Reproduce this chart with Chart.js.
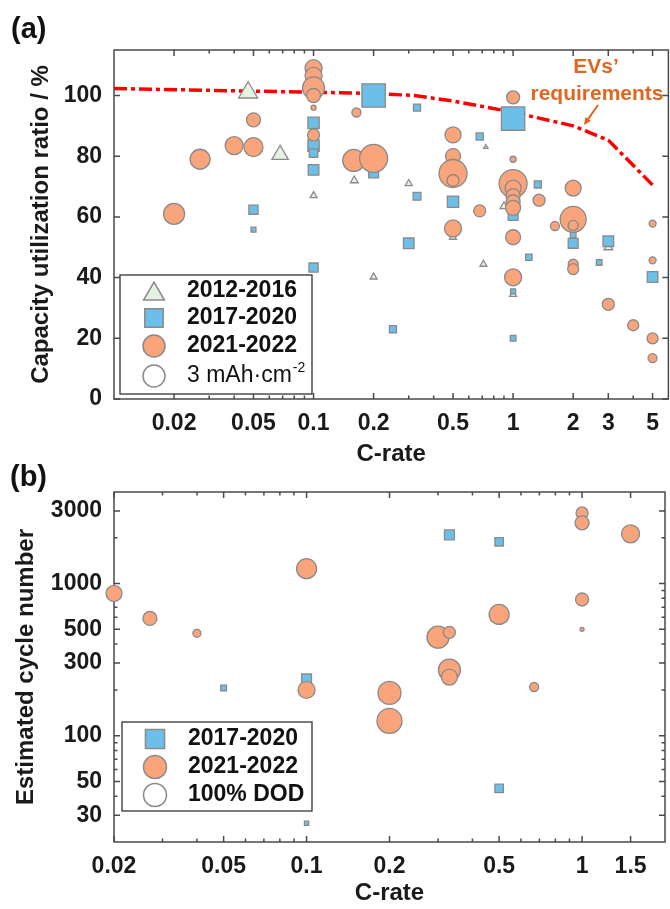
<!DOCTYPE html>
<html>
<head>
<meta charset="utf-8">
<title>Capacity utilization and cycle number vs C-rate</title>
<script src="https://cdn.jsdelivr.net/npm/chart.js@4.4.1/dist/chart.umd.min.js"></script>
<style>
  body { margin: 0; background: #fff; }
  .panel { position: absolute; left: 0; width: 670px; }
  #boxA { top: 0; height: 470px; }
  #boxB { top: 460px; height: 449px; }
</style>
</head>
<body>
<div class="panel" id="boxA"><canvas id="chartA"></canvas></div>
<div class="panel" id="boxB"><canvas id="chartB"></canvas></div>
<script>
// ---- panel (a): capacity utilization ratio vs C-rate ----
const triRate = [0.047, 0.068, 0.1, 0.1, 0.16, 0.2, 0.3, 0.5, 0.71, 0.73, 0.9, 1, 3];
const triUtil = [101, 80.5, 84, 67, 72, 40.2, 71, 53.3, 44.4, 83, 63.5, 34.5, 50];
const triSize = [11, 9.5, 6, 4, 4.5, 4, 4, 4, 4, 2.5, 4.5, 4, 5];

const sqRate = [0.05, 0.05, 0.1, 0.1, 0.1, 0.1, 0.1, 0.2, 0.2, 0.25, 0.3, 0.33, 0.33, 0.5, 0.68, 1, 1, 1, 1, 1.2, 1.33, 2, 2, 2.7, 3, 5];
const sqUtil = [62.4, 55.8, 91, 83.5, 81, 75.5, 43.3, 100, 74.5, 23, 51.3, 96, 66.8, 65, 86.5, 92.4, 60.5, 35.5, 20, 46.7, 70.7, 54, 51.3, 45, 52, 40.2];
const sqSize = [6.5, 3.5, 8, 8, 6, 7.5, 6.5, 16.5, 7, 5, 7.5, 5, 5.5, 8, 5, 16.5, 7, 3.5, 4, 4.5, 5, 4, 7, 4, 7.5, 7.5];

const circRate = [0.02, 0.027, 0.04, 0.05, 0.05, 0.1, 0.1, 0.1, 0.1, 0.1, 0.1, 0.164, 0.159, 0.2, 0.5, 0.5, 0.5, 0.5, 0.5, 0.68,
  1, 1, 1, 1, 1, 1, 1, 1, 1, 1.35, 1.62, 2, 2, 2, 2, 2, 3, 4, 5, 5, 5, 5];
const circUtil = [61, 79, 83.5, 83, 92, 109, 106.5, 102.5, 100, 96, 87, 94.4, 78.6, 79.3, 87, 80, 74.3, 72, 56.2, 62,
  99.4, 79, 71, 69.5, 67, 65, 63, 53.3, 40.1, 65.5, 57, 69.5, 59.2, 57.2, 44.4, 42.8, 31.2, 24.3, 57.8, 45.7, 20, 13.5];
const circSize = [10.5, 10, 9, 9.5, 7, 8.5, 8.5, 11, 7, 2.5, 6, 4.5, 11, 14, 8, 7.5, 14, 6, 8.5, 6,
  6.5, 3, 14, 8, 7, 7, 7.5, 7.5, 8.5, 6, 4.5, 8, 13, 5, 5, 5.5, 6, 5.5, 3.5, 3.5, 5.5, 4.5];

// EVs' requirements line
const evRate = [0.01, 0.2, 0.32, 0.5, 1, 2, 3, 5];
const evUtil = [102.3, 100.7, 100, 98.2, 94.5, 90, 85.3, 70.5];

const aXTicks = [0.02, 0.05, 0.1, 0.2, 0.5, 1, 2, 3, 5];
const aXMinor = [0.03, 0.04, 0.06, 0.07, 0.08, 0.09, 0.3, 0.4, 0.6, 0.7, 0.8, 0.9, 4];
const aYTicks = [0, 20, 40, 60, 80, 100];

// ---- panel (b): estimated cycle number vs C-rate ----
const bSqRate = [0.05, 0.1, 0.1, 0.33, 0.5, 0.5];
const bSqCycle = [206, 236, 26.6, 2090, 1883, 45];
const bSqSize = [4, 7, 3, 7, 6, 6];

const bCircRate = [0.02, 0.027, 0.04, 0.1, 0.1, 0.2, 0.2, 0.3, 0.33, 0.33, 0.33, 0.5, 0.67, 1, 1, 1, 1, 1.5];
const bCircCycle = [861, 590, 471, 1253, 200, 191, 125, 444, 478, 270, 243, 627, 209, 2912, 2507, 786, 500, 2124];
const bCircSize = [8, 7, 4, 10, 8.5, 11.5, 12.5, 11, 6, 11, 8, 10, 4.5, 6, 7, 6.5, 2, 9];

const bXTicks = [0.02, 0.05, 0.1, 0.2, 0.5, 1, 1.5];
const bXMinor = [0.03, 0.04, 0.06, 0.07, 0.08, 0.09, 0.3, 0.4, 0.6, 0.7, 0.8, 0.9];
const bYTicks = [30, 50, 100, 300, 500, 1000, 3000];
const bYMinor = [40, 60, 70, 80, 90, 200, 400, 600, 700, 800, 900, 2000];

const FONT = "'Liberation Sans', Arial, Helvetica, sans-serif";
const ORANGE = '#f9a47a', BLUE = '#6cbfe9', GREEN = '#e6f2e1', EDGE = '#8a8a8a', EVC = '#e2661f';
Chart.defaults.font.family = FONT;
Chart.defaults.color = '#1a1a1a';

const bubbles = (xs, ys, rs) => xs.map((x, i) => ({ x, y: ys[i], r: rs[i] }));

function markerSet(label, style, fill, data, order) {
  return { type: 'bubble', label, data, order, pointStyle: style, backgroundColor: fill,
    borderColor: EDGE, borderWidth: 1.3, clip: false };
}

// box frame and inward ticks on all four sides
const frameTicks = {
  id: 'frameTicks',
  beforeDatasetsDraw(chart, args, o) {
    const { ctx, chartArea: a, scales: { x, y } } = chart;
    ctx.save();
    ctx.strokeStyle = '#4a4a4a';
    ctx.lineWidth = 1.5;
    ctx.strokeRect(a.left, a.top, a.right - a.left, a.bottom - a.top);
    ctx.beginPath();
    const tick = (vals, len, isX) => vals.forEach(v => {
      if (isX) {
        const px = x.getPixelForValue(v);
        ctx.moveTo(px, a.bottom); ctx.lineTo(px, a.bottom - len);
        ctx.moveTo(px, a.top); ctx.lineTo(px, a.top + len);
      } else {
        const py = y.getPixelForValue(v);
        ctx.moveTo(a.left, py); ctx.lineTo(a.left + len, py);
        ctx.moveTo(a.right, py); ctx.lineTo(a.right - len, py);
      }
    });
    tick(o.xMajor, 6, true); tick(o.xMinor, 3.5, true);
    tick(o.yMajor, 6, false); tick(o.yMinor, 3.5, false);
    ctx.stroke();
    ctx.restore();
  }
};

const boxLegend = {
  id: 'boxLegend',
  afterDraw(chart, args, o) {
    const ctx = chart.ctx;
    const [x1, y1, x2, y2] = o.box;
    ctx.save();
    ctx.fillStyle = '#fff';
    ctx.fillRect(x1, y1, x2 - x1, y2 - y1);
    ctx.strokeStyle = '#333';
    ctx.lineWidth = 1.3;
    ctx.strokeRect(x1, y1, x2 - x1, y2 - y1);
    o.items.forEach(it => {
      ctx.fillStyle = it.fill;
      ctx.strokeStyle = EDGE;
      ctx.lineWidth = 1.5;
      Chart.helpers.drawPoint(ctx, { pointStyle: it.style, radius: it.r, borderWidth: 1.5, rotation: 0 },
        o.markerX, it.y + (it.style === 'triangle' ? it.r / 4 : 0));
      ctx.fillStyle = '#111';
      ctx.textAlign = 'left';
      ctx.textBaseline = 'middle';
      ctx.font = (it.bold ? 'bold ' : '') + '23px ' + FONT;
      ctx.fillText(it.text, o.textX, it.y);
      if (it.sup) {
        const w = ctx.measureText(it.text).width;
        ctx.font = '14px ' + FONT;
        ctx.fillText(it.sup, o.textX + w + 1, it.y - 8);
      }
    });
    ctx.restore();
  }
};

const notes = {
  id: 'notes',
  afterDraw(chart, args, o) {
    const ctx = chart.ctx;
    ctx.save();
    o.texts.forEach(t => {
      ctx.fillStyle = t.color || '#111';
      ctx.font = 'bold ' + t.size + 'px ' + FONT;
      ctx.textAlign = t.align || 'left';
      ctx.textBaseline = 'middle';
      ctx.fillText(t.text, t.x, t.y);
    });
    if (o.arrow) {
      const [ax, ay, bx, by] = o.arrow;
      const ang = Math.atan2(by - ay, bx - ax);
      ctx.strokeStyle = EVC;
      ctx.fillStyle = EVC;
      ctx.lineWidth = 2;
      ctx.beginPath();
      ctx.moveTo(ax, ay); ctx.lineTo(bx - 5 * Math.cos(ang), by - 5 * Math.sin(ang));
      ctx.stroke();
      ctx.beginPath();
      ctx.moveTo(bx, by);
      ctx.lineTo(bx - 8 * Math.cos(ang - 0.45), by - 8 * Math.sin(ang - 0.45));
      ctx.lineTo(bx - 8 * Math.cos(ang + 0.45), by - 8 * Math.sin(ang + 0.45));
      ctx.closePath();
      ctx.fill();
    }
    ctx.restore();
  }
};

function axisX(min, max, tickVals, height) {
  return {
    type: 'logarithmic', min, max,
    grid: { display: false, drawTicks: false }, border: { display: false },
    ticks: { font: { size: 23, weight: 'bold' }, padding: 11, autoSkip: false, maxRotation: 0, callback: v => String(v) },
    afterBuildTicks: s => { s.ticks = tickVals.map(v => ({ value: v })); },
    afterFit: s => { s.height = height; },
    title: { display: true, text: 'C-rate', font: { size: 24, weight: 'bold' }, padding: { top: 0, bottom: 1 } }
  };
}

function axisY(type, min, max, tickVals, text, titlePad) {
  return {
    type, min, max,
    grid: { display: false, drawTicks: false }, border: { display: false },
    ticks: { font: { size: 23, weight: 'bold' }, padding: 12, autoSkip: false, callback: v => String(v) },
    afterBuildTicks: s => { s.ticks = tickVals.map(v => ({ value: v })); },
    afterFit: s => { s.width = 114; },
    title: { display: true, text, font: { size: 24, weight: 'bold' }, padding: { top: titlePad, bottom: 0 } }
  };
}

new Chart(document.getElementById('chartA'), {
  type: 'bubble',
  data: {
    datasets: [
      markerSet('2021-2022', 'circle', ORANGE, bubbles(circRate, circUtil, circSize), 0),
      markerSet('2017-2020', 'rect', BLUE, bubbles(sqRate, sqUtil, sqSize), 1),
      markerSet('2012-2016', 'triangle', GREEN, bubbles(triRate, triUtil, triSize), 2),
      { type: 'line', label: "EVs' requirements", order: 3, data: evRate.map((x, i) => ({ x, y: evUtil[i] })),
        borderColor: '#ff0000', borderWidth: 3.5, borderDash: [13, 4, 4, 4], pointRadius: 0, tension: 0, fill: false }
    ]
  },
  options: {
    responsive: true, maintainAspectRatio: false, animation: false, events: [],
    layout: { autoPadding: false, padding: { top: 50, right: 1, left: 0, bottom: 0 } },
    plugins: {
      legend: { display: false }, tooltip: { enabled: false },
      frameTicks: { xMajor: aXTicks, xMinor: aXMinor, yMajor: aYTicks, yMinor: [] },
      boxLegend: {
        box: [120, 275, 312, 394], markerX: 154, textX: 187,
        items: [
          { style: 'triangle', fill: GREEN, r: 12, y: 291, text: '2012-2016', bold: true },
          { style: 'rect', fill: BLUE, r: 13, y: 318, text: '2017-2020', bold: true },
          { style: 'circle', fill: ORANGE, r: 11, y: 346, text: '2021-2022', bold: true },
          { style: 'circle', fill: '#fff', r: 11, y: 376, text: '3 mAh·cm', sup: '-2', bold: false }
        ]
      },
      notes: {
        texts: [
          { text: '(a)', x: 11, y: 30, size: 29 },
          { text: 'EVs’', x: 596, y: 67, size: 21, color: EVC, align: 'center' },
          { text: 'requirements', x: 597, y: 94, size: 21, color: EVC, align: 'center' }
        ],
        arrow: [598, 105, 584, 125]
      }
    },
    scales: {
      x: axisX(0.01, 6, aXTicks, 71),
      y: axisY('linear', 0, 115, aYTicks, 'Capacity utilization ratio / %', 27)
    }
  },
  plugins: [frameTicks, boxLegend, notes]
});

new Chart(document.getElementById('chartB'), {
  type: 'bubble',
  data: {
    datasets: [
      markerSet('2021-2022', 'circle', ORANGE, bubbles(bCircRate, bCircCycle, bCircSize), 0),
      markerSet('2017-2020', 'rect', BLUE, bubbles(bSqRate, bSqCycle, bSqSize), 1)
    ]
  },
  options: {
    responsive: true, maintainAspectRatio: false, animation: false, events: [],
    layout: { autoPadding: false, padding: { top: 32, right: 5, left: 0, bottom: 0 } },
    plugins: {
      legend: { display: false }, tooltip: { enabled: false },
      frameTicks: { xMajor: bXTicks, xMinor: bXMinor, yMajor: bYTicks, yMinor: bYMinor },
      boxLegend: {
        box: [122, 262, 312, 351], markerX: 155, textX: 188,
        items: [
          { style: 'rect', fill: BLUE, r: 13.5, y: 279, text: '2017-2020', bold: true },
          { style: 'circle', fill: ORANGE, r: 11.5, y: 307, text: '2021-2022', bold: true },
          { style: 'circle', fill: '#fff', r: 11.5, y: 335, text: '100% DOD', bold: true }
        ]
      },
      notes: { texts: [{ text: '(b)', x: 10, y: 18, size: 29 }] }
    },
    scales: {
      x: axisX(0.02, 2, bXTicks, 67),
      y: axisY('logarithmic', 20, 4000, bYTicks, 'Estimated cycle number', 12)
    }
  },
  plugins: [frameTicks, boxLegend, notes]
});
</script>
</body>
</html>
